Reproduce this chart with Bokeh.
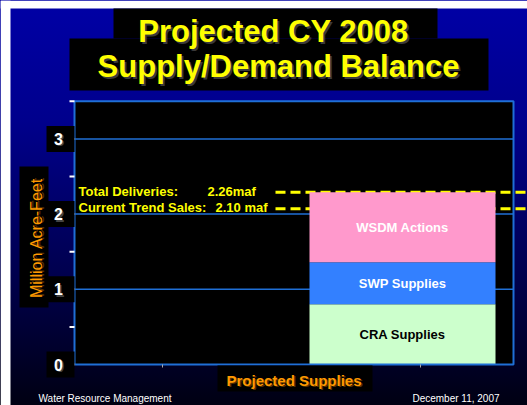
import numpy as np
from bokeh.plotting import figure
from bokeh.models import Range1d, ColumnDataSource
from bokeh.core.properties import value
from bokeh.embed import file_html
from bokeh.resources import INLINE

# ---------------- data ----------------
title_lines = ["Projected CY 2008", "Supply/Demand Balance"]
segments = ["CRA Supplies", "SWP Supplies", "WSDM Actions"]
segment_values = [0.80, 0.56, 0.93]          # million acre-feet (stacked)
ref_names = ["Total Deliveries:", "Current Trend Sales:"]
ref_texts = ["2.26maf", "2.10 maf"]
ref_levels = [2.29, 2.07]                     # as drawn in the picture
y_tick_values = [0, 1, 2, 3]
y_tick_labels = ["0", "1", "2", "3"]
y_minor_values = [0, 0.5, 1, 1.5, 2, 2.5, 3, 3.5]
y_top = 3.5
y_title = "Million Acre-Feet"
x_title = "Projected Supplies"
footer_left = "Water Resource Management"
footer_right = "December 11, 2007"

# ---------------- styles / layout ----------------
W, H = 527, 405
Y0_PX, PX_PER = 364.0, 75.2
def yd(px):
    return (Y0_PX - px) / PX_PER

FONT = value("Liberation Sans")
seg_colors = ["#ccffcc", "#3380ff", "#ff99cc"]
seg_text_colors = ["#000000", "#ffffff", "#ffffff"]
BLUE = "#1f6fd6"
YELLOW = "#ffff00"
ORANGE = "#ff9900"

PLOT_L, PLOT_R = 74, 513
BAR_C, BAR_W = 402, 186
DASH_L, DASH_R = 275, 527

p = figure(width=W, height=H, x_range=Range1d(0, W), y_range=Range1d(yd(H), yd(0)),
           output_backend="svg", toolbar_location=None,
           x_axis_location=None, y_axis_location=None,
           min_border_left=0, min_border_right=0, min_border_top=0, min_border_bottom=0,
           border_fill_color=None, background_fill_color=None, outline_line_color=None,
           styles={"background": "linear-gradient(180deg, #0000a6 0%, #00008c 30%, #00004a 70%, #000012 100%)"})
p.grid.visible = False

# white page margin
p.quad(left=[0, 0], right=[10, W], bottom=[yd(H), yd(8)], top=[yd(0), yd(0)],
       fill_color="white", line_color=None)

# title boxes + text
p.quad(left=[113, 69], right=[437, 488], bottom=[yd(38), yd(90)], top=[yd(8), yd(38)],
       fill_color="black", line_color=None)
title_x = [273, 278]
title_y = [yd(31), yd(66)]
p.text(x=[x + 2 for x in title_x], y=[y - 2 / PX_PER for y in title_y], text=title_lines,
       text_font=FONT, text_font_style="bold", text_font_size="31px",
       text_color="#3a3a3a", text_align="center", text_baseline="middle")
p.text(x=title_x, y=title_y, text=title_lines,
       text_font=FONT, text_font_style="bold", text_font_size="31px",
       text_color=YELLOW, text_align="center", text_baseline="middle")

# plot area
p.quad(left=[PLOT_L], right=[PLOT_R], bottom=[0], top=[y_top], fill_color="black", line_color=None)
p.segment(x0=PLOT_L, x1=PLOT_R, y0=y_tick_values[1:], y1=y_tick_values[1:],
          line_color=BLUE, line_width=1.5)

# reference dashed lines (behind the bar)
p.segment(x0=DASH_L, x1=DASH_R, y0=ref_levels, y1=ref_levels,
          line_color=YELLOW, line_width=3, line_dash="10 5")

# stacked bar
tops = np.cumsum(segment_values)
bottoms = tops - np.array(segment_values)
src = ColumnDataSource(dict(seg=segments, bottom=bottoms, top=tops, color=seg_colors,
                            tcolor=seg_text_colors, mid=(bottoms + tops) / 2,
                            x=[BAR_C] * len(segments)))
p.vbar(x="x", width=BAR_W, bottom="bottom", top="top", fill_color="color",
       line_color=None, source=src)
p.text(x="x", y="mid", text="seg", text_color="tcolor", source=src,
       text_font=FONT, text_font_style="bold", text_font_size="13px",
       text_align="center", text_baseline="middle")

# plot outline
p.line(x=[PLOT_L, PLOT_L, PLOT_R, PLOT_R, PLOT_L], y=[0, y_top, y_top, 0, 0],
       line_color=BLUE, line_width=2)

# y ticks
p.segment(x0=69, x1=PLOT_L, y0=y_minor_values, y1=y_minor_values,
          line_color="white", line_width=2)
# x tick marks
p.segment(x0=[162, 420], x1=[162, 420], y0=[0, 0], y1=[yd(367), yd(367)],
          line_color="#aaaaaa", line_width=1)

# y tick labels with black boxes
p.quad(left=46, right=74, bottom=[v - 13 / PX_PER for v in y_tick_values],
       top=[v + 13 / PX_PER for v in y_tick_values], fill_color="black", line_color=None)
p.text(x=59.5, y=[v - 1.5 / PX_PER for v in y_tick_values], text=y_tick_labels,
       text_font=FONT, text_font_style="bold", text_font_size="16px",
       text_color="#444444", text_align="center", text_baseline="middle")
p.text(x=58, y=y_tick_values, text=y_tick_labels,
       text_font=FONT, text_font_style="bold", text_font_size="16px",
       text_color="white", text_align="center", text_baseline="middle")

# y title
p.quad(left=[19], right=[48], bottom=[yd(307)], top=[yd(166)], fill_color="black", line_color=None)
p.text(x=[37.5], y=[yd(236.5)], text=[y_title], angle=np.pi / 2,
       text_font=FONT, text_font_size="16px", text_color="#553300",
       text_align="center", text_baseline="middle")
p.text(x=[36], y=[yd(237.5)], text=[y_title], angle=np.pi / 2,
       text_font=FONT, text_font_size="16px", text_color=ORANGE,
       text_align="center", text_baseline="middle")

# x title
p.quad(left=[217], right=[372], bottom=[yd(391)], top=[yd(365)], fill_color="black", line_color=None)
p.text(x=[295], y=[yd(381)], text=[x_title],
       text_font=FONT, text_font_style="bold", text_font_size="15px", text_color="#553300",
       text_align="center", text_baseline="middle")
p.text(x=[293.5], y=[yd(379.5)], text=[x_title],
       text_font=FONT, text_font_style="bold", text_font_size="15px", text_color=ORANGE,
       text_align="center", text_baseline="middle")

# reference line labels
p.text(x=[78, 78], y=[yd(191), yd(207)], text=ref_names,
       text_font=FONT, text_font_style="bold", text_font_size="13px", text_color=YELLOW,
       text_align="left", text_baseline="middle")
p.text(x=[207, 215], y=[yd(191), yd(207)], text=ref_texts,
       text_font=FONT, text_font_style="bold", text_font_size="13px", text_color=YELLOW,
       text_align="left", text_baseline="middle")

# footer
p.text(x=[38], y=[yd(398)], text=[footer_left], text_font=FONT, text_font_size="10px",
       text_color="white", text_align="left", text_baseline="middle")
p.text(x=[499], y=[yd(398)], text=[footer_right], text_font=FONT, text_font_size="10px",
       text_color="white", text_align="right", text_baseline="middle")

open("out.html", "w").write(file_html(p, INLINE))
